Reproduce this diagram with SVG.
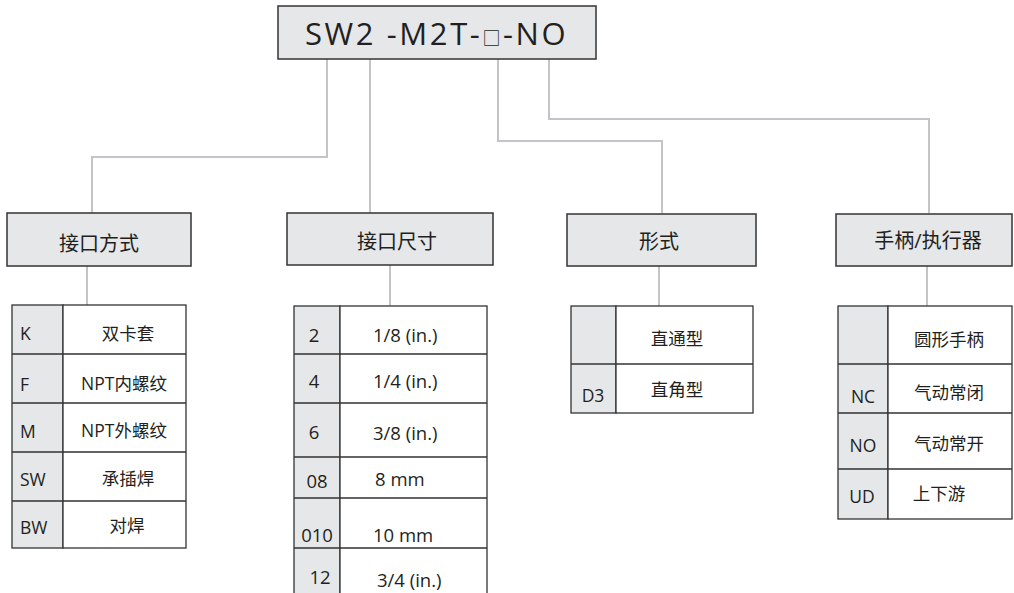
<svg xmlns="http://www.w3.org/2000/svg" width="1014" height="593" viewBox="0 0 1014 593">
<style>
.box{fill:#e6e7e8;stroke:#333;stroke-width:1.5}
.cell{fill:#fff;stroke:#333;stroke-width:1.3}
.key{fill:#e6e7e8;stroke:#333;stroke-width:1.3}
.conn{fill:none;stroke:#c4c4c8;stroke-width:2}
.t{font-family:"Open Sans","Noto Sans CJK SC",sans-serif;fill:#231f20}
.hd{font-size:20px;text-anchor:middle}
.r{font-size:17.5px}
.s{font-size:18.5px}
.m{text-anchor:middle}
</style>
<rect width="1014" height="593" fill="#fff"/>
<g id="connectors">
<path class="conn" d="M327 59V157H92V213"/>
<path class="conn" d="M370 59V213"/>
<path class="conn" d="M498 59V141H662V213"/>
<path class="conn" d="M549 59V119H929V213"/>
<path class="conn" d="M87 266V305"/>
<path class="conn" d="M390 265V306"/>
<path class="conn" d="M659 266V306"/>
<path class="conn" d="M927 266V306"/>
</g>
<g id="title">
<rect class="box" x="278" y="6" width="318" height="53"/>
<text class="t" x="305" y="45" font-size="31" letter-spacing="2.6">SW2 -M2T-<tspan font-size="18">□</tspan>-NO</text>
</g>
<g id="node-interface">
<rect class="box" x="7" y="213" width="184" height="53"/>
<text class="t hd" x="99" y="251">接口方式</text>
</g>
<g id="table-interface">
<rect class="key" x="12" y="305" width="51" height="243"/>
<rect class="cell" x="63" y="305" width="123" height="243"/>
<path stroke="#333" stroke-width="1.3" d="M12 354H186M12 403H186M12 452H186M12 501H186"/>
<text class="t r" x="20" y="340">K</text>
<text class="t r" x="20" y="391">F</text>
<text class="t r" x="20" y="438">M</text>
<text class="t r" x="20" y="486">SW</text>
<text class="t r" x="20" y="534">BW</text>
<text class="t r m" x="128" y="340">双卡套</text>
<text class="t r m" x="124" y="390">NPT内螺纹</text>
<text class="t r m" x="124" y="437">NPT外螺纹</text>
<text class="t r m" x="128" y="485">承插焊</text>
<text class="t r m" x="127" y="532">对焊</text>
</g>
<g id="node-size">
<rect class="box" x="287" y="213" width="206" height="52"/>
<text class="t hd" x="397" y="249">接口尺寸</text>
</g>
<g id="table-size">
<rect class="key" x="294" y="306" width="46" height="290"/>
<rect class="cell" x="340" y="306" width="147" height="290"/>
<path stroke="#333" stroke-width="1.3" d="M294 354H487M294 403H487M294 457H487M294 498H487M294 548H487"/>
<text class="t s m" x="314" y="342">2</text>
<text class="t s m" x="314" y="388">4</text>
<text class="t s m" x="314" y="439">6</text>
<text class="t s m" x="317" y="488">08</text>
<text class="t s m" x="317" y="542">010</text>
<text class="t s m" x="320" y="584">12</text>
<text class="t s" x="373" y="342">1/8 (in.)</text>
<text class="t s" x="373" y="388">1/4 (in.)</text>
<text class="t s" x="373" y="440">3/8 (in.)</text>
<text class="t s" x="375" y="486">8 mm</text>
<text class="t s" x="373" y="542">10 mm</text>
<text class="t s" x="377" y="587">3/4 (in.)</text>
</g>
<g id="node-form">
<rect class="box" x="567" y="214" width="189" height="52"/>
<text class="t hd" x="659" y="249">形式</text>
</g>
<g id="table-form">
<rect class="key" x="571" y="306" width="45" height="107"/>
<rect class="cell" x="616" y="306" width="137" height="107"/>
<path stroke="#333" stroke-width="1.3" d="M571 364H753"/>
<text class="t r m" x="593" y="402">D3</text>
<text class="t r m" x="677" y="345">直通型</text>
<text class="t r m" x="677" y="396">直角型</text>
</g>
<g id="node-actuator">
<rect class="box" x="836" y="214" width="176" height="52"/>
<text class="t hd" x="928" y="248">手柄/执行器</text>
</g>
<g id="table-actuator">
<rect class="key" x="838" y="306" width="50" height="213"/>
<rect class="cell" x="888" y="306" width="124" height="213"/>
<path stroke="#333" stroke-width="1.3" d="M838 364H1012M838 413H1012M838 469H1012"/>
<text class="t r m" x="863" y="403">NC</text>
<text class="t r m" x="863" y="452">NO</text>
<text class="t r m" x="862" y="503">UD</text>
<text class="t r m" x="949" y="346">圆形手柄</text>
<text class="t r m" x="949" y="399">气动常闭</text>
<text class="t r m" x="949" y="450">气动常开</text>
<text class="t r m" x="939" y="500">上下游</text>
</g>
</svg>
